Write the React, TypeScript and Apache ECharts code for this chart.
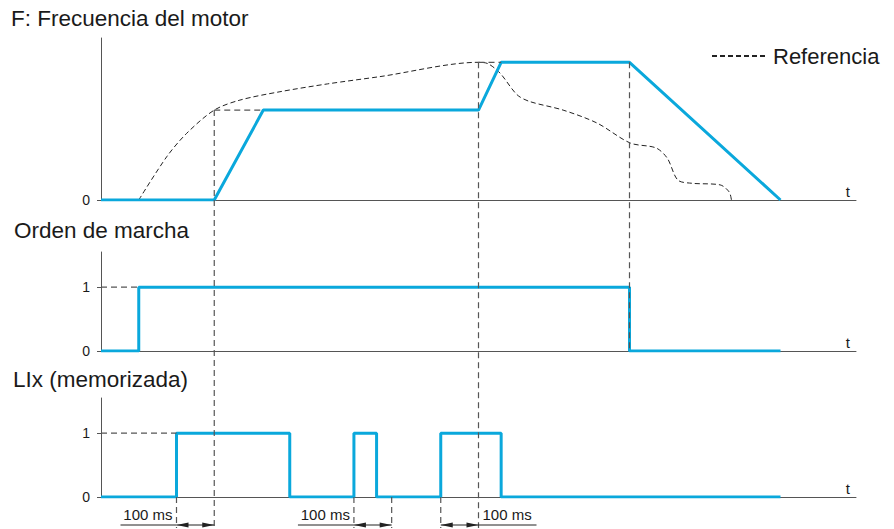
import React, { useEffect, useRef } from "react";
import * as echarts from "echarts";

// ---- data (time in ms) ----
const T_MAX = 2000;
const F_MAX = 60;
const LOGIC_MAX = 1.55;

const titles = ["F: Frecuencia del motor", "Orden de marcha", "LIx (memorizada)"];
const refName = "Referencia";
const axisName = "t";
const delayLabel = "100 ms";

// Motor frequency (blue)
const freqT = [0, 300, 430, 1000, 1060, 1400, 1800];
const freqV = [0, 0, 33.3, 33.3, 51, 51, 0];

// Reference (dashed curve)
const refT = [100, 174, 227, 300, 368, 474, 600, 739, 1000, 1025, 1057, 1102, 1135, 1224, 1314, 1402, 1470, 1500, 1528, 1565, 1640, 1664, 1670];
const refV = [0, 16, 24.7, 33.3, 37, 40.1, 43, 45.7, 51, 50.5, 47, 39, 36.5, 33.3, 28.5, 21.1, 19.3, 15.5, 7.4, 6.2, 5.6, 3, 0];

// Run command
const runT = [0, 100, 1400, 1800];
const runV = [0, 1, 0, 0];

// LIx (memorized)
const lixT = [0, 200, 500, 670, 730, 900, 1060, 1800];
const lixV = [0, 1, 0, 1, 0, 1, 0, 0];

// 100 ms delay annotations [start, end]
const delays = [
  [200, 300],
  [670, 770],
  [900, 1000],
];
const delayLabelSide = ["left", "left", "right"];

const BLUE = "#0aa8dc";
const AXIS = "#555555";
const TEXT = "#1a1a1a";
const FONT = "'Liberation Sans', Arial, Helvetica, sans-serif";

const zip = (t: number[], v: number[]) => t.map((x, i) => [x, v[i]]);

function makeX(gi: number) {
  return {
    type: "value",
    gridIndex: gi,
    min: 0,
    max: T_MAX,
    name: axisName,
    nameLocation: "end",
    nameGap: -6,
    nameTextStyle: {
      align: "right",
      verticalAlign: "bottom",
      fontSize: 15,
      color: TEXT,
      fontFamily: FONT,
      padding: [0, 0, 1, 0],
    },
    axisLine: { show: true, lineStyle: { color: AXIS, width: 1 } },
    axisTick: { show: false },
    axisLabel: { show: false },
    splitLine: { show: false },
  };
}

function makeY(gi: number, max: number, ticks: number[]) {
  return {
    type: "value",
    gridIndex: gi,
    min: 0,
    max,
    axisLine: { show: true, lineStyle: { color: AXIS, width: 1 } },
    axisTick: { show: true, length: 4, customValues: ticks, lineStyle: { color: AXIS } },
    axisLabel: {
      show: true,
      customValues: ticks,
      margin: 11,
      fontSize: 14,
      color: TEXT,
      fontFamily: FONT,
    },
    splitLine: { show: false },
  };
}

export default function App() {
  const ref = useRef<HTMLDivElement>(null);

  useEffect(() => {
    const chart = echarts.init(ref.current!, null, { renderer: "svg" });
    const titleStyle = { fontSize: 22.5, fontWeight: "normal", color: TEXT, fontFamily: FONT };
    chart.setOption({
      animation: false,
      backgroundColor: "#ffffff",
      textStyle: { fontFamily: FONT },
      title: [
        { text: titles[0], left: 11, top: 7, padding: 0, textStyle: titleStyle },
        { text: titles[1], left: 14, top: 219, padding: 0, textStyle: titleStyle },
        { text: titles[2], left: 13, top: 368, padding: 0, textStyle: titleStyle },
      ],
      legend: {
        data: [refName],
        left: 711,
        top: 45,
        padding: 0,
        itemWidth: 56,
        itemHeight: 14,
        itemStyle: { opacity: 0 },
        textStyle: { fontSize: 22, color: TEXT, fontFamily: FONT },
        selectedMode: false,
      },
      grid: [
        { left: 101, right: 38, top: 38, height: 162 },
        { left: 101, right: 38, top: 252, height: 99 },
        { left: 101, right: 38, top: 398, height: 99 },
      ],
      xAxis: [makeX(0), makeX(1), makeX(2)],
      yAxis: [makeY(0, F_MAX, [0]), makeY(1, LOGIC_MAX, [0, 1]), makeY(2, LOGIC_MAX, [0, 1])],
      series: [
        {
          name: refName,
          type: "line",
          xAxisIndex: 0,
          yAxisIndex: 0,
          data: zip(refT, refV),
          smooth: 0.3,
          symbol: "none",
          lineStyle: { color: "#222222", width: 1, type: [5, 3] },
          z: 3,
        },
        {
          name: "F",
          type: "line",
          xAxisIndex: 0,
          yAxisIndex: 0,
          data: zip(freqT, freqV),
          symbol: "none",
          lineStyle: { color: BLUE, width: 3 },
          z: 5,
        },
        {
          name: "Orden",
          type: "line",
          xAxisIndex: 1,
          yAxisIndex: 1,
          data: zip(runT, runV),
          step: "end",
          symbol: "none",
          lineStyle: { color: BLUE, width: 3 },
          z: 5,
        },
        {
          name: "LIx",
          type: "line",
          xAxisIndex: 2,
          yAxisIndex: 2,
          data: zip(lixT, lixV),
          step: "end",
          symbol: "none",
          lineStyle: { color: BLUE, width: 3 },
          z: 5,
        },
      ],
    });

    const px = (g: number, t: number, v: number) =>
      chart.convertToPixel({ gridIndex: g } as any, [t, v]) as number[];

    const dash = { stroke: AXIS, lineWidth: 1.2, lineDash: [6, 4], fill: "none" };
    const els: any[] = [];
    const line = (x1: number, y1: number, x2: number, y2: number, style: any) =>
      els.push({ type: "line", shape: { x1, y1, x2, y2 }, style, silent: true, z: 10 });

    const bottomZero = px(2, 0, 0)[1];
    const annY = bottomZero + 28;
    const guideBottom = bottomZero + 31;

    // Long vertical guides from the frequency plateau corners
    const fLow = freqV[2];
    const fHigh = freqV[4];
    const tStart = freqT[1];
    const tHigh = freqT[3];
    const tStop = freqT[5];
    let p = px(0, tStart, fLow);
    line(p[0], p[1], p[0], guideBottom, dash);
    p = px(0, tHigh, fHigh);
    line(p[0], p[1], p[0], guideBottom, dash);
    p = px(0, tStop, fHigh);
    line(p[0], p[1], p[0], px(1, tStop, 0)[1], dash);

    // Horizontal guides in the top panel
    let a = px(0, tStart, fLow);
    let b = px(0, freqT[2], fLow);
    line(a[0], a[1], b[0], b[1], dash);
    a = px(0, tHigh, fHigh);
    b = px(0, freqT[4], fHigh);
    line(a[0], a[1], b[0], b[1], dash);

    // Level "1" guides in logic panels
    a = px(1, 0, 1);
    b = px(1, runT[1], 1);
    line(a[0], a[1], b[0], b[1], dash);
    a = px(2, 0, 1);
    b = px(2, lixT[1], 1);
    line(a[0], a[1], b[0], b[1], dash);

    // Delay annotations
    const longGuides = [tStart, tHigh];
    const solid = { stroke: "#222222", lineWidth: 1 };
    delays.forEach(([t0, t1], i) => {
      const x0 = px(2, t0, 0)[0];
      const x1 = px(2, t1, 0)[0];
      line(x0, bottomZero, x0, guideBottom, dash);
      if (!longGuides.includes(t1)) line(x1, bottomZero, x1, guideBottom, dash);
      line(x0, annY, x1, annY, solid);
      els.push({
        type: "polygon",
        shape: { points: [[x0, annY], [x0 + 12, annY - 2.5], [x0 + 12, annY + 2.5]] },
        style: { fill: "#222222" },
        silent: true,
        z: 10,
      });
      els.push({
        type: "polygon",
        shape: { points: [[x1, annY], [x1 - 12, annY - 2.5], [x1 - 12, annY + 2.5]] },
        style: { fill: "#222222" },
        silent: true,
        z: 10,
      });
      const left = delayLabelSide[i] === "left";
      if (left) {
        line(x0 - 56, annY, x0, annY, solid);
      } else {
        line(x1, annY, x1 + 58, annY, solid);
      }
      els.push({
        type: "text",
        x: left ? x0 - 4 : x1 + 4,
        y: annY - 11,
        silent: true,
        z: 10,
        style: {
          text: delayLabel,
          fontSize: 15,
          fontFamily: FONT,
          fill: TEXT,
          align: left ? "right" : "left",
          verticalAlign: "middle",
        },
      });
    });

    chart.setOption({ graphic: els });
    return () => chart.dispose();
  }, []);

  return (
    <div
      ref={ref}
      style={{ position: "absolute", left: 0, top: 0, width: 894, height: 529 }}
    />
  );
}
